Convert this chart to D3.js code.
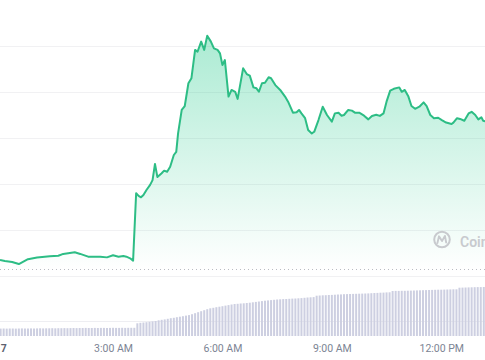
<!DOCTYPE html>
<html>
<head>
<meta charset="utf-8">
<script src="https://cdn.jsdelivr.net/npm/d3@7"></script>
<style>
  html, body { margin: 0; padding: 0; background: #fff; }
  svg { display: block; }
  .tick text { font-family: Roboto, "Liberation Sans", sans-serif; }
</style>
</head>
<body>
<svg id="chart" width="485" height="360"></svg>
<script>
// ---- data (minutes from midnight of the day, price in USD) ----
const priceTimes = [-6,2,14,25,40,55,76,90,98,117,126,139,159,170,180,189,197,202,208,213,
  218,222,226,230,235,241,245,249,253,260,264,269,274,280,284,287,293,298,304,309,
  315,319,325,330,335,341,346,352,356,360,364,370,375,381,385,394,400,405,411,416,
  420,425,430,436,440,447,455,463,468,476,482,486,490,496,501,507,511,518,525,532,
  540,545,551,556,560,567,573,578,585,593,600,606,613,619,625,630,636,642,651,655,
  660,666,671,677,684,691,696,702,708,715,721,728,737,740,746,751,758,765,770,776,
  781,786,789,794];
const prices = [0.5070,0.5065,0.5061,0.5052,0.5073,0.5080,0.5086,0.5088,0.5096,0.5103,
  0.5096,0.5084,0.5084,0.5081,0.5090,0.5084,0.5087,0.5084,0.5077,0.5067,
  0.5360,0.5348,0.5342,0.5352,0.5374,0.5396,0.5417,0.5487,0.5430,0.5447,
  0.5458,0.5453,0.5475,0.5526,0.5540,0.5620,0.5722,0.5739,0.5838,0.5860,
  0.5983,0.5975,0.6019,0.5983,0.6045,0.6019,0.5990,0.5983,0.5968,0.5917,
  0.5939,0.5780,0.5809,0.5801,0.5770,0.5903,0.5878,0.5871,0.5820,0.5816,
  0.5801,0.5838,0.5840,0.5864,0.5860,0.5830,0.5809,0.5780,0.5758,0.5710,
  0.5712,0.5722,0.5707,0.5686,0.5635,0.5620,0.5627,0.5678,0.5736,0.5700,
  0.5671,0.5707,0.5710,0.5697,0.5700,0.5722,0.5719,0.5710,0.5710,0.5697,
  0.5681,0.5696,0.5701,0.5696,0.5707,0.5758,0.5806,0.5814,0.5820,0.5801,
  0.5809,0.5780,0.5739,0.5727,0.5736,0.5755,0.5739,0.5700,0.5686,0.5688,
  0.5678,0.5667,0.5661,0.5667,0.5686,0.5683,0.5675,0.5707,0.5714,0.5700,
  0.5681,0.5690,0.5675,0.5671];
const refPrice = 0.5030;
const priceGrid = [0.52,0.54,0.56,0.58,0.60];

// volume bars every 5 minutes starting at -5 min (millions)
const volStart = -5, volStep = 5;
const volumes = [7.4,7.5,7.4,7.5,7.5,7.4,7.5,7.6,7.5,7.5,
  7.6,7.5,7.6,7.7,7.6,7.7,7.7,7.8,7.7,7.8,
  7.8,7.9,7.8,7.9,8.0,7.9,8.0,8.0,8.1,8.0,
  8.0,8.1,8.0,8.1,8.1,8.0,8.1,8.2,8.1,8.1,
  8.2,8.1,8.2,8.2,8.2,
  12.7,13.2,13.5,13.8,14.2,14.6,15.0,15.7,16.2,16.6,
  17.2,17.8,18.2,18.8,19.3,19.8,20.4,20.9,21.8,22.8,
  23.8,24.8,25.8,26.8,27.7,28.2,28.8,29.3,29.8,30.4,
  30.9,31.5,32.0,32.2,32.5,32.7,33.0,33.3,33.7,34.1,
  34.5,34.9,35.3,35.6,35.9,36.2,36.5,36.7,36.9,37.0,
  37.2,37.4,37.5,37.7,37.9,38.2,38.5,38.7,38.9,40.3,
  40.5,40.7,40.8,41.0,41.1,41.3,41.5,41.6,41.8,41.9,
  42.0,42.1,42.2,42.3,42.4,42.5,42.6,42.8,43.0,43.1,
  43.3,43.4,43.6,43.7,45.0,45.1,45.1,45.2,45.2,45.3,
  45.4,45.5,45.6,45.7,45.8,45.9,46.0,46.1,46.2,46.3,
  46.3,46.4,46.5,46.6,46.7,46.7,48.3,48.4,48.5,48.6,
  48.7,48.8,48.9,48.9,49.0];
const volGrid = [15];

const tickMinutes = [0, 180, 360, 540, 720];
const tickLabels = ["17", "3:00 AM", "6:00 AM", "9:00 AM", "12:00 PM"];

// ---- setup ----
const W = 485, H = 360;
const dayStart = Date.UTC(2024, 0, 17, 0, 0);
const toDate = m => new Date(dayStart + m * 60000);

const svg = d3.select("#chart");
const x = d3.scaleUtc().domain([toDate(-6), toDate(792)]).range([0, W]);
const y = d3.scaleLinear().domain([0.50, 0.62]).range([276, 0]);
const yv = d3.scaleLinear().domain([0, 60]).range([336, 276]);

const priceData = priceTimes.map((t, i) => ({ d: toDate(t), v: prices[i] }));
const volData = volumes.map((v, i) => ({ d: toDate(volStart + i * volStep), v }));

const lineColor = "#2dbd85";

// gradient
const defs = svg.append("defs");
const grad = defs.append("linearGradient").attr("id", "fillGrad")
  .attr("gradientUnits", "userSpaceOnUse")
  .attr("x1", 0).attr("x2", 0).attr("y1", y(0.605)).attr("y2", y(0.5025));
grad.append("stop").attr("offset", 0).attr("stop-color", "#16c784").attr("stop-opacity", 0.36);
grad.append("stop").attr("offset", 1).attr("stop-color", "#16c784").attr("stop-opacity", 0.0);

// grid lines
svg.append("g").selectAll("line").data(priceGrid).join("line")
  .attr("x1", 0).attr("x2", W)
  .attr("y1", d => Math.round(y(d)) + 0.5).attr("y2", d => Math.round(y(d)) + 0.5)
  .attr("stroke", "#f1f1f3").attr("stroke-width", 1);
svg.append("line").attr("x1", 0).attr("x2", W)
  .attr("y1", y(0.50) + 0.5).attr("y2", y(0.50) + 0.5)
  .attr("stroke", "#f1f1f3");
svg.append("g").selectAll("line").data(volGrid).join("line")
  .attr("x1", 0).attr("x2", W)
  .attr("y1", d => Math.round(yv(d)) + 0.5).attr("y2", d => Math.round(yv(d)) + 0.5)
  .attr("stroke", "#eeeef2");

// area
const area = d3.area().x(d => x(d.d)).y0(y(0.50)).y1(d => y(d.v));
svg.append("path").datum(priceData).attr("d", area).attr("fill", "url(#fillGrad)");

// watermark logo
const logo = svg.append("g").attr("transform", "translate(442,239.5)");
logo.append("circle").attr("r", 7.8).attr("fill", "none").attr("stroke", "#c8cace").attr("stroke-width", 2);
logo.append("path").attr("d", "M-4.6,3.6 L-3,-3.2 L0,1.6 L2.9,-3.6 L4.2,3")
  .attr("fill", "none").attr("stroke", "#c8cace").attr("stroke-width", 1.9)
  .attr("stroke-linejoin", "round").attr("stroke-linecap", "round");
svg.append("text").attr("x", 460).attr("y", 246.5)
  .attr("font-family", "Roboto, sans-serif").attr("font-weight", 600)
  .attr("font-size", 14).attr("fill", "#c8cace").text("CoinGecko");

// line
const line = d3.line().x(d => x(d.d)).y(d => y(d.v));
svg.append("path").datum(priceData).attr("d", line)
  .attr("fill", "none").attr("stroke", lineColor).attr("stroke-width", 2)
  .attr("stroke-linejoin", "round");

// reference dotted line
svg.append("line").attr("x1", 0).attr("x2", W)
  .attr("y1", Math.round(y(refPrice)) + 0.5).attr("y2", Math.round(y(refPrice)) + 0.5)
  .attr("stroke", "#b9bcc2").attr("stroke-width", 1).attr("stroke-dasharray", "1,3");

// volume bars
svg.append("g").selectAll("rect").data(volData).join("rect")
  .attr("x", d => x(d.d) - 1).attr("width", 2)
  .attr("y", d => yv(d.v)).attr("height", d => yv(0) - yv(d.v))
  .attr("fill", "#cdcfe1");

// x axis
const axis = d3.axisBottom(x)
  .tickValues(tickMinutes.map(toDate))
  .tickFormat((d, i) => tickLabels[i])
  .tickSize(0).tickPadding(0);
const gx = svg.append("g").attr("transform", "translate(0,345)").call(axis);
gx.select(".domain").remove();
gx.selectAll(".tick text").attr("fill", "#7c8494").attr("font-size", 10.5).attr("dy", "0.71em");
gx.selectAll(".tick text").filter((d, i) => i === 0)
  .attr("font-weight", 700).attr("fill", "#5c6270").attr("dx", "-3.5");
</script>
</body>
</html>
